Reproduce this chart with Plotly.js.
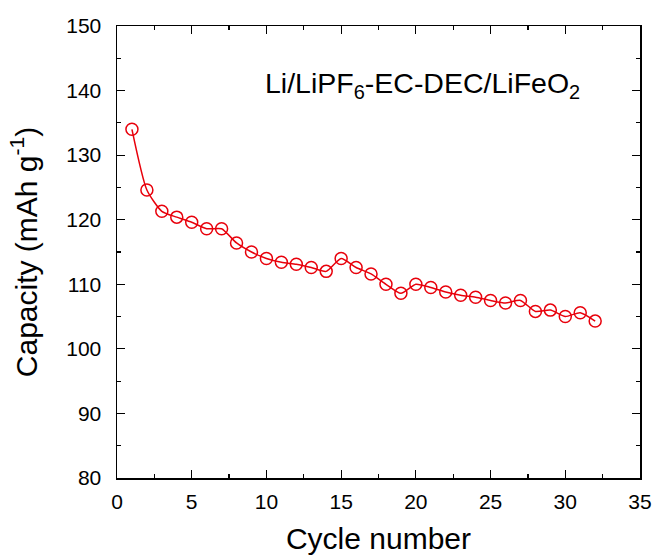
<!DOCTYPE html>
<html><head><meta charset="utf-8">
<script src="https://cdn.plot.ly/plotly-3.0.1.min.js"></script>
<style>html,body{margin:0;padding:0;background:#fff}</style>
</head><body>
<div id="chart" style="width:653px;height:555px"></div>
<script>
const cycles = [1,2,3,4,5,6,7,8,9,10,11,12,13,14,15,16,17,18,19,20,21,22,23,24,25,26,27,28,29,30,31,32];
const capacity = [134.0,124.6,121.3,120.4,119.6,118.6,118.6,116.4,115.0,114.0,113.4,113.1,112.6,112.0,114.0,112.6,111.6,110.0,108.6,110.0,109.5,108.8,108.3,108.0,107.5,107.1,107.5,105.8,106.0,105.0,105.6,104.3];
const xTicks = [0,5,10,15,20,25,30,35];
const yTicks = [80,90,100,110,120,130,140,150];
const xTitle = 'Cycle number';
const yTitle = 'Capacity (mAh g<sup>-1</sup>)';
const label = 'Li/LiPF<sub>6</sub>-EC-DEC/LiFeO<sub>2</sub>';

const font = 'Arial, "Liberation Sans", sans-serif';
const axisCommon = {
  showgrid:false, zeroline:false, showline:true, linecolor:'#000', linewidth:1.5,
  mirror:'allticks', ticks:'inside', ticklen:8, tickwidth:1.2, tickcolor:'#000',
  tickfont:{family:font, size:21, color:'#000'}
};
const data = [{
  x: cycles, y: capacity, type:'scatter', mode:'lines+markers',
  line:{color:'#e8000b', width:1.5, shape:'spline', smoothing:0.6},
  marker:{symbol:'circle-open', size:12, color:'#e8000b', line:{width:1.5, color:'#e8000b'}},
  showlegend:false
}];
const layout = {
  width:653, height:555,
  margin:{l:117, r:13, t:26, b:77},
  paper_bgcolor:'#fff', plot_bgcolor:'#fff',
  xaxis: Object.assign({}, axisCommon, {
    range:[0,35], tickvals:xTicks, ticklabelstandoff:4,
    minor:{tickvals:[2.5,7.5,12.5,17.5,22.5,27.5,32.5], ticks:'inside', ticklen:4, tickwidth:1.2, tickcolor:'#000'},
    title:{text:xTitle, font:{family:font, size:30, color:'#000'}, standoff:16}
  }),
  yaxis: Object.assign({}, axisCommon, {
    range:[80,150], tickvals:yTicks, ticklabelstandoff:10,
    minor:{tickvals:[85,95,105,115,125,135,145], ticks:'inside', ticklen:4, tickwidth:1.2, tickcolor:'#000'},
    title:{text:yTitle, font:{family:font, size:30, color:'#000'}, standoff:20}
  }),
  annotations:[{
    text: label, xref:'x', yref:'y', x:20.45, y:140.9, xanchor:'center', yanchor:'middle',
    showarrow:false, font:{family:font, size:28.5, color:'#000'}
  }]
};
Plotly.newPlot('chart', data, layout, {displayModeBar:false, staticPlot:true});
</script>
</body></html>
